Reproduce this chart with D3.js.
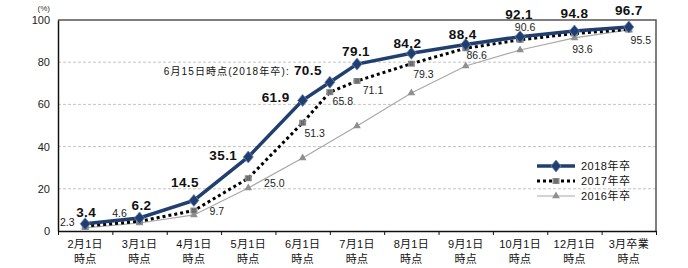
<!DOCTYPE html>
<html>
<head>
<meta charset="utf-8">
<script src="https://cdn.jsdelivr.net/npm/d3@7"></script>
<style>
  body { margin: 0; background: #fff; }
  text { font-family: "Liberation Sans", Arial, "Noto Sans CJK JP", sans-serif; }
</style>
</head>
<body>
<div id="chart"></div>
<script>
// categories on the x axis (two lines each)
var categories = [
  ["2月1日", "時点"], ["3月1日", "時点"], ["4月1日", "時点"], ["5月1日", "時点"],
  ["6月1日", "時点"], ["7月1日", "時点"], ["8月1日", "時点"], ["9月1日", "時点"],
  ["10月1日", "時点"], ["12月1日", "時点"], ["3月卒業", "時点"]
]
var yTicks = [0, 20, 40, 60, 80, 100]

// 2018 and 2017 have an extra point on 6/15 (halfway between 6/1 and 7/1)
var pos2018 = [0, 1, 2, 3, 4, 4.5, 5, 6, 7, 8, 9, 10]
var val2018 = [3.4, 6.2, 14.5, 35.1, 61.9, 70.5, 79.1, 84.2, 88.4, 92.1, 94.8, 96.7]
var pos2017 = [0, 1, 2, 3, 4, 4.5, 5, 6, 7, 8, 9, 10]
var val2017 = [2.3, 4.6, 9.7, 25.0, 51.3, 65.8, 71.1, 79.3, 86.6, 90.6, 93.6, 95.5]
var pos2016 = [0, 1, 2, 3, 4, 5, 6, 7, 8, 9, 10]
var val2016 = [1.5, 3.8, 7.6, 20.4, 34.6, 49.8, 65.4, 78.2, 85.8, 91.5, 95.3]

var legendNames = ["2018年卒", "2017年卒", "2016年卒"]
var notePrefix = "6月15日時点(2018年卒):"

var W = 688, H = 268
var margin = { top: 20, right: 32, bottom: 37, left: 58 }

var svg = d3.select("#chart").append("svg")
  .attr("width", W).attr("height", H)

var x = d3.scaleLinear().domain([-0.5, categories.length - 0.5])
  .range([margin.left, W - margin.right])
var y = d3.scaleLinear().domain([0, 100]).range([H - margin.bottom, margin.top])

// grid lines
svg.append("g").selectAll("line")
  .data(yTicks.filter(function (t) { return t > 0 && t < 100 }))
  .enter().append("line")
  .attr("x1", x.range()[0]).attr("x2", x.range()[1])
  .attr("y1", function (d) { return y(d) }).attr("y2", function (d) { return y(d) })
  .attr("stroke", "#c4c4c4").attr("stroke-dasharray", "3,2").attr("stroke-width", 1)

// frame: top and right
svg.append("path")
  .attr("d", "M" + x.range()[0] + "," + y(100) + "H" + x.range()[1] + "V" + y(0))
  .attr("fill", "none").attr("stroke", "#555").attr("stroke-width", 1.5)

// y axis
var yAxis = svg.append("g")
  .attr("transform", "translate(" + margin.left + ",0)")
  .call(d3.axisLeft(y).tickValues(yTicks).tickSize(0).tickPadding(8))
yAxis.select(".domain").attr("stroke", "#111").attr("stroke-width", 1.5)
yAxis.selectAll("text").style("font-size", "11px").attr("fill", "#222")

svg.append("text").attr("x", 50).attr("y", 11).attr("text-anchor", "end")
  .style("font-size", "8px").attr("fill", "#333").text("(%)")

// x axis with ticks at category boundaries
var bounds = d3.range(categories.length + 1).map(function (i) { return i - 0.5 })
var xAxis = svg.append("g")
  .attr("transform", "translate(0," + y(0) + ")")
  .call(d3.axisBottom(x).tickValues(bounds).tickSizeInner(4).tickSizeOuter(0).tickFormat(""))
xAxis.select(".domain").attr("stroke", "#111").attr("stroke-width", 1.5)
xAxis.selectAll(".tick line").attr("stroke", "#111")

var catLabels = svg.append("g").selectAll("text")
  .data(categories).enter().append("text")
  .attr("text-anchor", "middle")
  .style("font-size", "11px").style("letter-spacing", "0.3px").attr("fill", "#111")
catLabels.append("tspan")
  .attr("x", function (d, i) { return x(i) }).attr("y", 248)
  .text(function (d) { return d[0] })
catLabels.append("tspan")
  .attr("x", function (d, i) { return x(i) }).attr("y", 263)
  .text(function (d) { return d[1] })

function pts(pos, vals) {
  return pos.map(function (p, i) { return { p: p, v: vals[i], i: i } })
}
var d2018 = pts(pos2018, val2018)
var d2017 = pts(pos2017, val2017)
var d2016 = pts(pos2016, val2016)

var line = d3.line().x(function (d) { return x(d.p) }).y(function (d) { return y(d.v) })

var col2018 = "#203f70", col2016 = "#a8a8a8"

// 2016 series
svg.append("path").datum(d2016).attr("d", line)
  .attr("fill", "none").attr("stroke", col2016).attr("stroke-width", 1.2)
svg.append("g").selectAll("path").data(d2016).enter().append("path")
  .attr("d", d3.symbol().type(d3.symbolTriangle).size(26))
  .attr("transform", function (d) { return "translate(" + x(d.p) + "," + y(d.v) + ")" })
  .attr("fill", "#8f8f8f")

// 2017 series
svg.append("path").datum(d2017).attr("d", line)
  .attr("fill", "none").attr("stroke", "#000").attr("stroke-width", 3)
  .attr("stroke-dasharray", "3,3")
function square(g) {
  g.append("rect").attr("x", -3.5).attr("y", -3).attr("width", 7).attr("height", 6)
    .attr("fill", "#8a8a8a")
  g.append("path").attr("d", "M-2,-1H2M-2,1H2M-1,-2.5V2.5M1,-2.5V2.5")
    .attr("stroke", "#555").attr("stroke-width", 0.6)
}
svg.append("g").selectAll("g").data(d2017).enter().append("g")
  .attr("transform", function (d) { return "translate(" + x(d.p) + "," + y(d.v) + ")" })
  .each(function () { square(d3.select(this)) })

// 2018 series
svg.append("path").datum(d2018).attr("d", line)
  .attr("fill", "none").attr("stroke", col2018).attr("stroke-width", 3.5)
var diamond = "M0,-6L5,0L0,6L-5,0Z"
svg.append("g").selectAll("path").data(d2018).enter().append("path")
  .attr("d", diamond)
  .attr("transform", function (d) { return "translate(" + x(d.p) + "," + y(d.v) + ")" })
  .attr("fill", col2018).attr("stroke", "#6a86b0").attr("stroke-width", 0.8)

// value labels (offsets of label centre from point)
var off2018 = [[1, -12], [2, -13], [-9, -18], [-25, -2], [-27, -3], [-8, -12],
  [-1, -13], [-4, -10], [-3, -10], [-1, -23], [0, -18], [0, -17]]
var off2017 = [[-18, -4], [-20, -8], [23, 0], [26, 5], [12, 10], [13, 9],
  [16, 9], [12, 10], [11, 7], [5, -13], [8, 15], [12, 11]]

svg.append("g").selectAll("text").data(d2018).enter().append("text")
  .attr("x", function (d) { return x(d.p) + off2018[d.i][0] })
  .attr("y", function (d) { return y(d.v) + off2018[d.i][1] + 5 })
  .attr("text-anchor", function (d) { return d.p === 4.5 ? "end" : "middle" })
  .style("font-size", "13.5px").style("font-weight", "bold")
  .style("letter-spacing", "0.4px").attr("fill", "#111")
  .each(function (d) {
    var t = d3.select(this)
    if (d.p === 4.5) {
      t.append("tspan").style("font-size", "10px").style("font-weight", "normal")
        .style("letter-spacing", "1.1px").text(notePrefix)
      t.append("tspan").text(" ")
    }
    t.append("tspan").text(d3.format(".1f")(d.v))
  })

svg.append("g").selectAll("text").data(d2017).enter().append("text")
  .attr("x", function (d) { return x(d.p) + off2017[d.i][0] })
  .attr("y", function (d) { return y(d.v) + off2017[d.i][1] + 4 })
  .attr("text-anchor", "middle")
  .style("font-size", "10.5px").attr("fill", "#222")
  .text(function (d) { return d3.format(".1f")(d.v) })

// legend
var lg = svg.append("g").attr("transform", "translate(537,166)")
var rows = [0, 15, 30]
lg.append("line").attr("x1", 0).attr("x2", 38).attr("y1", rows[0]).attr("y2", rows[0])
  .attr("stroke", col2018).attr("stroke-width", 3.5)
lg.append("path").attr("d", diamond).attr("transform", "translate(19," + rows[0] + ")")
  .attr("fill", col2018).attr("stroke", "#6a86b0").attr("stroke-width", 0.8)
lg.append("line").attr("x1", 0).attr("x2", 38).attr("y1", rows[1]).attr("y2", rows[1])
  .attr("stroke", "#000").attr("stroke-width", 3).attr("stroke-dasharray", "3,3")
lg.append("g").attr("transform", "translate(19," + rows[1] + ")").call(square)
lg.append("line").attr("x1", 0).attr("x2", 38).attr("y1", rows[2]).attr("y2", rows[2])
  .attr("stroke", col2016).attr("stroke-width", 1.2)
lg.append("path").attr("d", d3.symbol().type(d3.symbolTriangle).size(26))
  .attr("transform", "translate(19," + rows[2] + ")").attr("fill", "#8f8f8f")
lg.selectAll("text.lab").data(legendNames).enter().append("text")
  .attr("class", "lab")
  .attr("x", 44).attr("y", function (d, i) { return rows[i] + 4 })
  .style("font-size", "11px").style("letter-spacing", "0.5px").attr("fill", "#111")
  .text(function (d) { return d })
</script>
</body>
</html>
